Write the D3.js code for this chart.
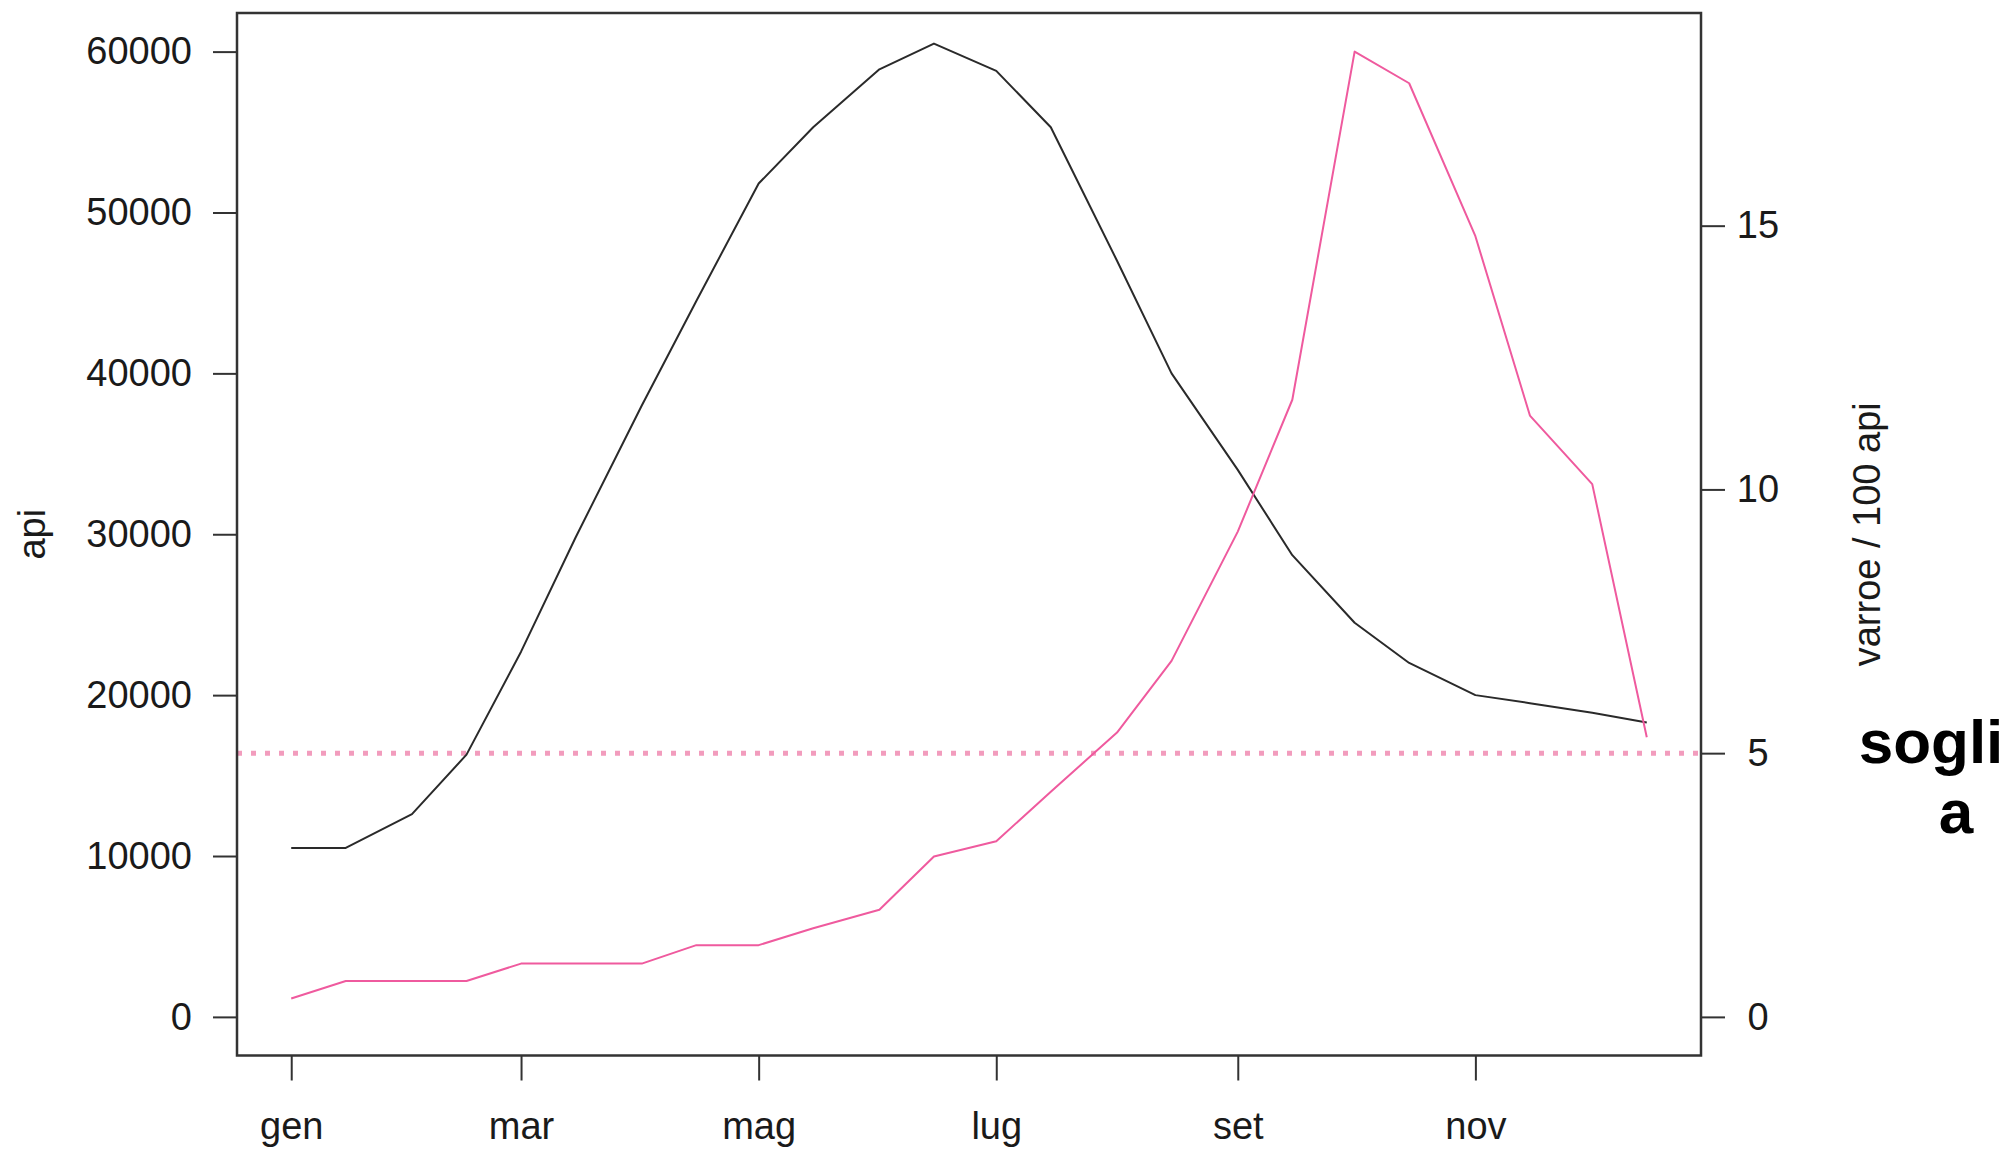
<!DOCTYPE html>
<html>
<head>
<meta charset="utf-8">
<script src="https://cdn.jsdelivr.net/npm/d3@7/dist/d3.min.js"></script>
<style>
  body { margin: 0; background: #fff; }
  svg text { font-family: "Liberation Sans", Arial, Helvetica, sans-serif; fill: #1a1a1a; }
</style>
</head>
<body>
<svg id="chart" width="2016" height="1151"></svg>
<script>
// sampling dates: 1st and 15th of each month
const sampleDates = [
  '2011-01-01', '2011-01-15', '2011-02-01', '2011-02-15', '2011-03-01', '2011-03-15',
  '2011-04-01', '2011-04-15', '2011-05-01', '2011-05-15', '2011-06-01', '2011-06-15',
  '2011-07-01', '2011-07-15', '2011-08-01', '2011-08-15', '2011-09-01', '2011-09-15',
  '2011-10-01', '2011-10-15', '2011-11-01', '2011-11-15', '2011-12-01', '2011-12-15'
];

// bees in the colony (left axis)
const apiValues = [
  10500, 10500, 12600, 16300, 22700, 29800,
  38000, 44500, 51800, 55300, 58900, 60500,
  58800, 55300, 47000, 40000, 34000, 28700,
  24500, 22000, 20000, 19500, 18900, 18300
];

// mites per 100 bees (right axis)
const varroaValues = [
  0.35, 0.68, 0.68, 0.68, 1.01, 1.01,
  1.01, 1.36, 1.36, 1.68, 2.03, 3.04,
  3.33, 4.27, 5.39, 6.75, 9.2, 11.7,
  18.3, 17.7, 14.8, 11.4, 10.1, 5.3
];

const monthTicks = ['2011-01-01', '2011-03-01', '2011-05-01', '2011-07-01', '2011-09-01', '2011-11-01'];
const monthLabels = ['gen', 'mar', 'mag', 'lug', 'set', 'nov'];
const apiTicks = [0, 10000, 20000, 30000, 40000, 50000, 60000];
const varroaTicks = [0, 5, 10, 15];
const threshold = 5;

const parseDate = d3.utcParse('%Y-%m-%d');
const data = sampleDates.map((d, i) => ({
  date: parseDate(d),
  api: apiValues[i],
  varroa: varroaValues[i]
}));

const box = {left: 237, right: 1701, top: 13, bottom: 1055.5};

// R style 4% padding on every axis
function pad(lo, hi) {
  const r = hi - lo;
  return [lo - r * 0.04, hi + r * 0.04];
}

const tExtent = d3.extent(data, d => d.date).map(d => +d);
const x = d3.scaleUtc()
  .domain(pad(tExtent[0], tExtent[1]).map(t => new Date(t)))
  .range([box.left, box.right]);

const yApi = d3.scaleLinear()
  .domain(pad(0, 60000))
  .range([box.bottom, box.top]);

const yVarroa = d3.scaleLinear()
  .domain(pad(0, d3.max(varroaValues)))
  .range([box.bottom, box.top]);

const svg = d3.select('#chart');

// threshold (soglia)
svg.append('line')
  .attr('class', 'soglia')
  .attr('x1', box.left)
  .attr('x2', box.right)
  .attr('y1', yVarroa(threshold))
  .attr('y2', yVarroa(threshold))
  .attr('stroke', '#f29cbd')
  .attr('stroke-width', 5)
  .attr('stroke-dasharray', '5,9');

// Lines
const apiLine = d3.line()
  .x(d => x(d.date))
  .y(d => yApi(d.api));

const varroaLine = d3.line()
  .x(d => x(d.date))
  .y(d => yVarroa(d.varroa));

svg.append('path')
  .datum(data)
  .attr('class', 'line-api')
  .attr('d', apiLine)
  .attr('fill', 'none')
  .attr('stroke', '#2a2a2a')
  .attr('stroke-width', 2)
  .attr('stroke-linejoin', 'round');

svg.append('path')
  .datum(data)
  .attr('class', 'line-varroa')
  .attr('d', varroaLine)
  .attr('fill', 'none')
  .attr('stroke', '#ef5a9e')
  .attr('stroke-width', 2)
  .attr('stroke-linejoin', 'round');

// X Axis
const xAxis = d3.axisBottom(x)
  .tickValues(monthTicks.map(parseDate))
  .tickFormat((d, i) => monthLabels[i])
  .tickSize(25)
  .tickPadding(32);

const gx = svg.append('g')
  .attr('class', 'axis axis--x')
  .attr('transform', 'translate(0,' + box.bottom + ')')
  .call(xAxis);

// Left Y Axis
const gyl = svg.append('g')
  .attr('class', 'axis axis--y')
  .attr('transform', 'translate(' + box.left + ',0)')
  .call(d3.axisLeft(yApi).tickValues(apiTicks).tickFormat(d3.format('d')).tickSize(24).tickPadding(21));

// Right Y Axis
const gyr = svg.append('g')
  .attr('class', 'axis axis--y2')
  .attr('transform', 'translate(' + box.right + ',0)')
  .call(d3.axisRight(yVarroa).tickValues(varroaTicks).tickSize(24).tickPadding(14));

[gx, gyl, gyr].forEach(g => {
  g.select('.domain').remove();
  g.selectAll('line').attr('stroke', '#333').attr('stroke-width', 2);
  g.selectAll('text').attr('font-size', 38).attr('fill', '#1a1a1a');
});
gyr.selectAll('text').attr('text-anchor', 'middle').attr('x', 57);

// Box
svg.append('rect')
  .attr('x', box.left)
  .attr('y', box.top)
  .attr('width', box.right - box.left)
  .attr('height', box.bottom - box.top)
  .attr('fill', 'none')
  .attr('stroke', '#333')
  .attr('stroke-width', 2.5);

// Axis titles
const midY = (box.top + box.bottom) / 2;
svg.append('text')
  .attr('transform', 'translate(32,' + midY + ') rotate(-90)')
  .attr('text-anchor', 'middle')
  .attr('dy', '0.35em')
  .attr('font-size', 38)
  .text('api');

svg.append('text')
  .attr('transform', 'translate(1867,' + midY + ') rotate(-90)')
  .attr('text-anchor', 'middle')
  .attr('dy', '0.35em')
  .attr('font-size', 38)
  .text('varroe / 100 api');

// soglia label (wrapped in the original)
const soglia = svg.append('text')
  .attr('font-size', 62)
  .attr('font-weight', 'bold')
  .attr('text-anchor', 'middle')
  .style('fill', '#000');
soglia.append('tspan').attr('x', 1931).attr('y', 763).text('sogli');
soglia.append('tspan').attr('x', 1956).attr('y', 833).text('a');
</script>
</body>
</html>
